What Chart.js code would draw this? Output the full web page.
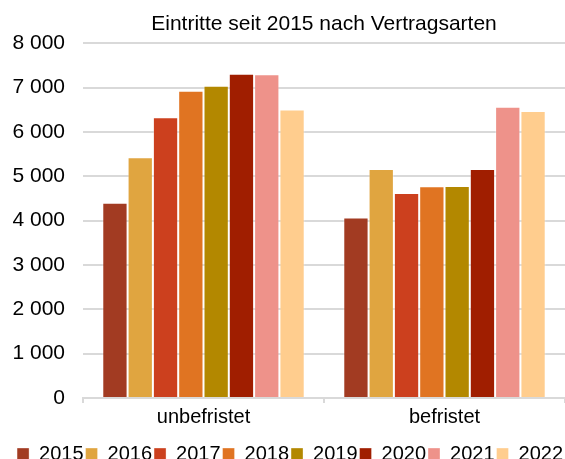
<!DOCTYPE html>
<html>
<head>
<meta charset="utf-8">
<script src="https://cdn.jsdelivr.net/npm/chart.js@4/dist/chart.umd.min.js"></script>
<style>
  html, body { margin: 0; padding: 0; background: #fff; overflow: hidden; }
  #wrap { width: 565px; height: 474px; position: relative; }
</style>
</head>
<body>
<div id="wrap"><canvas id="myChart"></canvas></div>
<script>
// Kategorien und Werte
const categories = ['unbefristet', 'befristet'];
const years = ['2015', '2016', '2017', '2018', '2019', '2020', '2021', '2022'];
const values2015 = [4400, 4070];
const values2016 = [5430, 5165];
const values2017 = [6330, 4625];
const values2018 = [6930, 4775];
const values2019 = [7040, 4780];
const values2020 = [7310, 5165];
const values2021 = [7300, 6565];
const values2022 = [6505, 6470];
const yTicks = [0, 1000, 2000, 3000, 4000, 5000, 6000, 7000, 8000];

const seriesValues = [values2015, values2016, values2017, values2018, values2019, values2020, values2021, values2022];
const colors = ['#A23B22', '#E0A540', '#CC401E', '#E07422', '#B38800', '#A01E00', '#EE928A', '#FFCD8E'];

function formatNumber(v) {
    // Tausender mit Leerzeichen
    return String(v).replace(/\B(?=(\d{3})+(?!\d))/g, ' ');
}

const ctx = document.getElementById('myChart').getContext('2d');

const myChart = new Chart(ctx, {
    type: 'bar',
    data: {
        labels: categories,
        datasets: years.map((y, i) => ({
            label: y,
            data: seriesValues[i],
            backgroundColor: colors[i],
            borderColor: 'rgba(255,255,255,0.35)',
            borderWidth: 1,
            categoryPercentage: 0.84,
            barPercentage: 1.0
        }))
    },
    options: {
        responsive: true,
        maintainAspectRatio: false,
        animation: false,
        layout: { padding: { left: 0, right: 0, top: 0, bottom: 0 } },
        scales: {
            y: {
                min: 0,
                max: 8000,
                afterBuildTicks: axis => { axis.ticks = yTicks.map(v => ({ value: v })); },
                afterFit: axis => { axis.width = 83; },
                grid: { color: '#d9d9d9', lineWidth: 2, drawTicks: false },
                border: { display: false },
                ticks: {
                    padding: 18,
                    color: '#000',
                    font: { family: 'Liberation Sans', size: 21 },
                    callback: v => formatNumber(v)
                }
            },
            x: {
                offset: true,
                afterFit: axis => { axis.height += 11; }, // Abstand zur Legende
                grid: { offset: true, drawOnChartArea: false, color: '#d9d9d9', lineWidth: 2, tickLength: 5 },
                border: { display: true, color: '#d9d9d9', width: 2 },
                ticks: {
                    padding: 2,
                    color: '#000',
                    font: { family: 'Liberation Sans', size: 20 }
                }
            }
        },
        plugins: {
            title: {
                display: true,
                text: 'Eintritte seit 2015 nach Vertragsarten',
                fullSize: false,
                color: '#000',
                font: { family: 'Liberation Sans', size: 21, weight: 'normal' },
                padding: { top: 12, bottom: 6 }
            },
            legend: {
                position: 'bottom',
                align: 'end',
                labels: {
                    boxWidth: 12,
                    boxHeight: 12,
                    padding: 2,
                    color: '#000',
                    font: { family: 'Liberation Sans', size: 20 }
                }
            },
            tooltip: { enabled: false }
        }
    }
});
</script>
</body>
</html>
